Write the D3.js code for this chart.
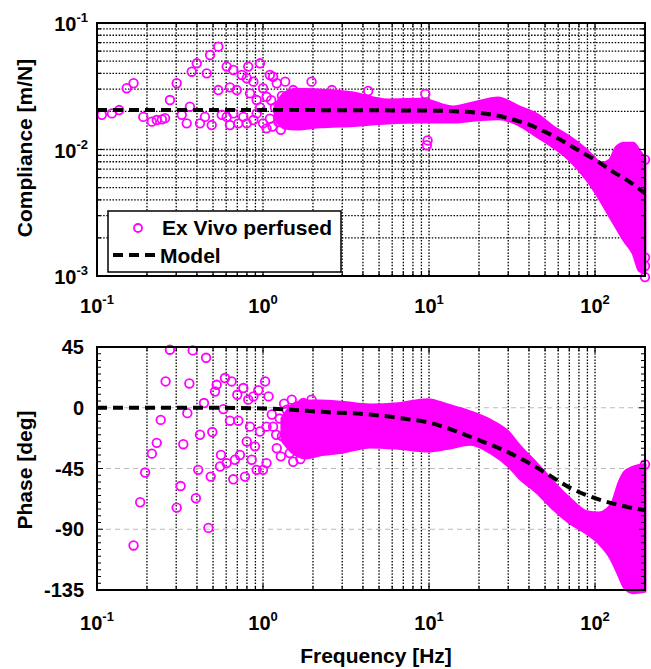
<!DOCTYPE html>
<html>
<head>
<meta charset="utf-8">
<script src="https://cdn.jsdelivr.net/npm/d3@7"></script>
<style>
  body { margin: 0; background: #fff; }
  text { font-family: 'Liberation Sans', Arial, sans-serif; font-weight: bold; fill: #000; }
</style>
</head>
<body>
<div id="chart"></div>
<script>
// ===== COMPLIANCE / PHASE BODE PLOT =====

// axis ticks
const freqTicks = [0.1, 1, 10, 100];
const complianceTicks = [1e-3, 1e-2, 1e-1];
const phaseTicks = [-135, -90, -45, 0, 45];

// model curve
const modelFreq = [0.1, 1, 5, 10, 15, 20, 30, 40, 50, 60, 80, 100, 130, 160, 200];
const modelCompliance = [0.0205, 0.0205, 0.0204, 0.0203, 0.0200, 0.0195, 0.0177, 0.0157, 0.0138, 0.0122, 0.0098, 0.0083, 0.0066, 0.0056, 0.0045];
const modelPhaseFreq = [0.1, 0.5, 1, 1.5, 2.2, 4.4, 7, 10, 15, 20, 30, 40, 50, 70, 100, 150, 200];
const modelPhase = [0, 0, -0.5, -1.5, -3, -5, -8, -11, -18, -24, -33, -41, -48, -59, -67, -73, -76];

// single measured points [Hz, m/N]
const pointsCompliance = [
  [0.107, 0.0188], [0.123, 0.0193], [0.136, 0.0205], [0.151, 0.0305], [0.166, 0.0334],
  [0.190, 0.0181], [0.214, 0.0166], [0.229, 0.0171], [0.246, 0.0173], [0.257, 0.0177],
  [0.275, 0.0246], [0.302, 0.0334], [0.324, 0.0188], [0.347, 0.0161], [0.363, 0.0218],
  [0.372, 0.0412], [0.399, 0.048], [0.458, 0.040], [0.480, 0.0558], [0.538, 0.065],
  [0.417, 0.0161], [0.447, 0.0181], [0.491, 0.0156], [0.538, 0.0295], [0.564, 0.0188],
  [0.604, 0.0452], [0.632, 0.031], [0.662, 0.0425], [0.662, 0.0193], [0.695, 0.0295],
  [0.710, 0.0161], [0.745, 0.0388], [0.798, 0.0366], [0.815, 0.0452], [0.835, 0.0278],
  [0.875, 0.0344], [0.916, 0.0246], [0.959, 0.048], [1.00, 0.0305], [1.05, 0.0261],
  [0.761, 0.0181], [0.798, 0.0161], [0.875, 0.0171], [0.916, 0.0193], [1.00, 0.0161],
  [1.05, 0.0147], [1.10, 0.0388], [1.15, 0.0376], [1.21, 0.0334], [1.36, 0.0344],
  [1.52, 0.0295], [1.96, 0.0344], [0.604, 0.0181], [0.632, 0.0156], [9.5, 0.0275],
  [9.7, 0.0108], [9.8, 0.0118], [2.6, 0.0295], [4.3, 0.029], [57, 0.0112],
  [1.10, 0.0175], [1.14, 0.0152], [1.18, 0.0215], [1.24, 0.0165], [1.28, 0.0143],
  [1.30, 0.0265], [1.12, 0.0245], [0.96, 0.0215],
  [200, 0.00098], [200, 0.0012], [200, 0.0014], [200, 0.0083]
];

// single measured points [Hz, deg]
const pointsPhase = [
  [0.166, -102], [0.182, -70], [0.195, -48], [0.214, -34], [0.229, -26], [0.242, -9],
  [0.259, 19.5], [0.275, 43], [0.302, -74], [0.319, -58], [0.331, -27], [0.35, -4],
  [0.36, 18], [0.377, 42.5], [0.394, -67], [0.407, -46], [0.417, -20], [0.441, 3.5],
  [0.454, 37], [0.469, -89], [0.484, -51], [0.495, -18], [0.514, 12], [0.526, 17],
  [0.551, -43.5], [0.558, -35], [0.577, -1], [0.59, 22], [0.604, -41], [0.632, -9.6],
  [0.647, 19.5], [0.662, -53], [0.678, -38.5], [0.70, 9.6], [0.71, -9.6], [0.726, -35],
  [0.761, 14.6], [0.779, -51], [0.798, -25], [0.815, 6], [0.835, -14], [0.855, -38.5],
  [0.875, 8.4], [0.895, -28.6], [0.916, -46], [0.937, 13], [0.959, -17.6], [1.0, -46],
  [1.03, 19.5], [1.05, -14], [1.05, -41], [1.08, 8.4], [1.13, -5], [1.15, -14],
  [1.21, -30], [1.30, -21], [1.39, -1.5], [1.45, -33.6], [1.49, 6], [1.60, -26],
  [1.75, 3.5], [1.96, 6], [1.88, -33.6], [1.20, -20], [1.26, -8], [1.28, -36],
  [1.34, 3], [1.40, -15], [1.52, -40], [1.68, -38], [200, -42]
];

// dense part of the measurement, drawn as its upper / lower envelope
const bandFreqC = [1.18, 1.35, 1.6, 2.2, 3.5, 5.6, 9, 14, 20, 26, 35, 45, 56, 70, 89, 110, 122, 135, 150, 170, 185, 200];
const bandComplianceHi = [0.022, 0.028, 0.030, 0.0295, 0.028, 0.0246, 0.025, 0.0217, 0.024, 0.0255, 0.0217, 0.0188, 0.0151, 0.0126, 0.0099, 0.0078, 0.0082, 0.0105, 0.0112, 0.0112, 0.0098, 0.0085];
const bandComplianceLo = [0.0175, 0.0148, 0.0145, 0.0151, 0.0155, 0.0162, 0.0165, 0.0165, 0.0172, 0.0175, 0.0156, 0.0126, 0.0105, 0.0083, 0.0058, 0.0038, 0.0030, 0.0024, 0.0019, 0.0015, 0.0011, 0.00105];

const bandFreqP = [1.3, 1.5, 1.8, 2.2, 3, 4.4, 6.5, 9.8, 13, 17.7, 24, 30, 35, 45, 56, 70, 89, 105, 125, 140, 150, 170, 200];
const bandPhaseHi = [-8, 2, 5, 5, 4, 2, 3, 6, 2, -3, -10, -18, -28, -42, -55, -67, -77, -78, -72, -55, -48, -44, -42];
const bandPhaseLo = [-24, -33, -37, -35, -33, -29, -30, -32, -30, -27, -34, -43, -52, -63, -75, -85, -93, -100, -112, -125, -133, -137, -136];

// ===== drawing =====
const MAGENTA = '#ff00ff';
const W = 651, H = 669;
const P1 = { top: 23, bottom: 276 };
const P2 = { top: 347, bottom: 590 };
const LEFT = 97, RIGHT = 645;

const svg = d3.select('#chart').append('svg')
  .attr('width', W)
  .attr('height', H);

const x = d3.scaleLog().domain([0.1, 200]).range([LEFT, RIGHT]);
const yC = d3.scaleLog().domain([1e-3, 1e-1]).range([P1.bottom, P1.top]);
const yP = d3.scaleLinear().domain([-135, 45]).range([P2.bottom, P2.top]);

const xMinor = x.ticks();   // 0.1, 0.2 ... 200
const cMinor = yC.ticks();  // 0.001, 0.002 ... 0.1
const pMinor = d3.range(-135, 46, 5);

function dotted(sel) {
  return sel.attr('stroke', '#000')
    .attr('stroke-width', 1.3)
    .attr('stroke-dasharray', '1.5,1.6');
}

// --- grids ---
const grid = svg.append('g');
grid.selectAll('.v1').data(xMinor).join('line')
  .attr('x1', d => x(d)).attr('x2', d => x(d))
  .attr('y1', P1.top).attr('y2', P1.bottom)
  .call(dotted);
grid.selectAll('.h1').data(cMinor).join('line')
  .attr('x1', LEFT).attr('x2', RIGHT)
  .attr('y1', d => yC(d)).attr('y2', d => yC(d))
  .call(dotted);
grid.selectAll('.v2').data(xMinor).join('line')
  .attr('x1', d => x(d)).attr('x2', d => x(d))
  .attr('y1', P2.top).attr('y2', P2.bottom)
  .call(dotted);
grid.selectAll('.h2').data(phaseTicks.slice(1, -1)).join('line')
  .attr('x1', LEFT).attr('x2', RIGHT)
  .attr('y1', d => yP(d)).attr('y2', d => yP(d))
  .attr('stroke', '#bbb')
  .attr('stroke-width', 1)
  .attr('stroke-dasharray', '5,4');

// --- measured data ---
const bandC = d3.area()
  .x((d, i) => x(bandFreqC[i]))
  .y0((d, i) => yC(bandComplianceLo[i]))
  .y1((d, i) => yC(bandComplianceHi[i]))
  .curve(d3.curveMonotoneX);
const bandP = d3.area()
  .x((d, i) => x(bandFreqP[i]))
  .y0((d, i) => yP(bandPhaseLo[i]))
  .y1((d, i) => yP(bandPhaseHi[i]))
  .curve(d3.curveMonotoneX);

svg.append('path').datum(bandFreqC).attr('d', bandC)
  .attr('fill', MAGENTA).attr('stroke', MAGENTA)
  .attr('stroke-width', 3).attr('stroke-linejoin', 'round');
svg.append('path').datum(bandFreqP).attr('d', bandP)
  .attr('fill', MAGENTA).attr('stroke', MAGENTA)
  .attr('stroke-width', 3).attr('stroke-linejoin', 'round');

svg.append('g').selectAll('circle').data(pointsCompliance).join('circle')
  .attr('cx', d => x(d[0])).attr('cy', d => yC(d[1]))
  .attr('r', 4.3).attr('fill', 'none')
  .attr('stroke', MAGENTA).attr('stroke-width', 1.8);
svg.append('g').selectAll('circle').data(pointsPhase).join('circle')
  .attr('cx', d => x(d[0])).attr('cy', d => yP(d[1]))
  .attr('r', 4.3).attr('fill', 'none')
  .attr('stroke', MAGENTA).attr('stroke-width', 1.8);

// --- model ---
const lineC = d3.line()
  .x((d, i) => x(modelFreq[i]))
  .y(d => yC(d))
  .curve(d3.curveMonotoneX);
const lineP = d3.line()
  .x((d, i) => x(modelPhaseFreq[i]))
  .y(d => yP(d))
  .curve(d3.curveMonotoneX);

svg.append('path').datum(modelCompliance).attr('d', lineC)
  .attr('fill', 'none').attr('stroke', '#000')
  .attr('stroke-width', 4).attr('stroke-dasharray', '10,6');
svg.append('path').datum(modelPhase).attr('d', lineP)
  .attr('fill', 'none').attr('stroke', '#000')
  .attr('stroke-width', 4).attr('stroke-dasharray', '10,6');

// --- frames and inward ticks ---
[P1, P2].forEach(p => {
  const g = svg.append('g');
  g.selectAll('.tb').data(xMinor).join('path')
    .attr('d', d => {
      const len = freqTicks.includes(d) ? 6 : 4;
      return `M${x(d)},${p.bottom}v${-len}M${x(d)},${p.top}v${len}`;
    })
    .attr('stroke', '#000').attr('stroke-width', 1.2);
  g.append('rect')
    .attr('x', LEFT).attr('y', p.top)
    .attr('width', RIGHT - LEFT).attr('height', p.bottom - p.top)
    .attr('fill', 'none').attr('stroke', '#000').attr('stroke-width', 2);
});

svg.append('g').selectAll('path').data(cMinor).join('path')
  .attr('d', d => {
    const len = complianceTicks.includes(d) ? 6 : 4;
    return `M${LEFT},${yC(d)}h${len}M${RIGHT},${yC(d)}h${-len}`;
  })
  .attr('stroke', '#000').attr('stroke-width', 1.2);
svg.append('g').selectAll('path').data(pMinor).join('path')
  .attr('d', d => {
    const len = phaseTicks.includes(d) ? 6 : 4;
    return `M${LEFT},${yP(d)}h${len}M${RIGHT},${yP(d)}h${-len}`;
  })
  .attr('stroke', '#000').attr('stroke-width', 1.2);

// --- tick labels ---
function powerLabel(sel, d) {
  const e = Math.round(Math.log10(d));
  sel.append('tspan').text('10');
  sel.append('tspan').attr('dy', -9).attr('font-size', 13).text(e);
}

[P1, P2].forEach((p, k) => {
  svg.append('g').selectAll('text').data(freqTicks).join('text')
    .attr('x', d => x(d))
    .attr('y', p.bottom + (k === 0 ? 37 : 40))
    .attr('text-anchor', 'middle')
    .attr('font-size', 20)
    .each(function(d) { powerLabel(d3.select(this), d); });
});

svg.append('g').selectAll('text').data(complianceTicks).join('text')
  .attr('x', 88)
  .attr('y', d => yC(d) + 8)
  .attr('text-anchor', 'end')
  .attr('font-size', 20)
  .each(function(d) { powerLabel(d3.select(this), d); });

svg.append('g').selectAll('text').data(phaseTicks).join('text')
  .attr('x', 84)
  .attr('y', d => yP(d) + 7)
  .attr('text-anchor', 'end')
  .attr('font-size', 20)
  .text(d => d);

// --- axis titles ---
svg.append('text')
  .attr('transform', 'translate(32,148) rotate(-90)')
  .attr('text-anchor', 'middle')
  .attr('font-size', 21)
  .text('Compliance [m/N]');
svg.append('text')
  .attr('transform', 'translate(32,470) rotate(-90)')
  .attr('text-anchor', 'middle')
  .attr('font-size', 21)
  .text('Phase [deg]');
svg.append('text')
  .attr('x', 376).attr('y', 663)
  .attr('text-anchor', 'middle')
  .attr('font-size', 21)
  .text('Frequency [Hz]');

// --- legend ---
const legend = svg.append('g');
legend.append('rect')
  .attr('x', 108).attr('y', 211)
  .attr('width', 233).attr('height', 61)
  .attr('fill', '#fff').attr('stroke', '#000').attr('stroke-width', 1.5);
legend.append('circle')
  .attr('cx', 138).attr('cy', 228).attr('r', 4)
  .attr('fill', 'none').attr('stroke', MAGENTA).attr('stroke-width', 1.8);
legend.append('text')
  .attr('x', 162).attr('y', 235)
  .attr('font-size', 21)
  .text('Ex Vivo perfused');
legend.append('line')
  .attr('x1', 113).attr('x2', 159).attr('y1', 255).attr('y2', 255)
  .attr('stroke', '#000').attr('stroke-width', 4).attr('stroke-dasharray', '10,6');
legend.append('text')
  .attr('x', 160).attr('y', 263)
  .attr('font-size', 21)
  .text('Model');
</script>
</body>
</html>
